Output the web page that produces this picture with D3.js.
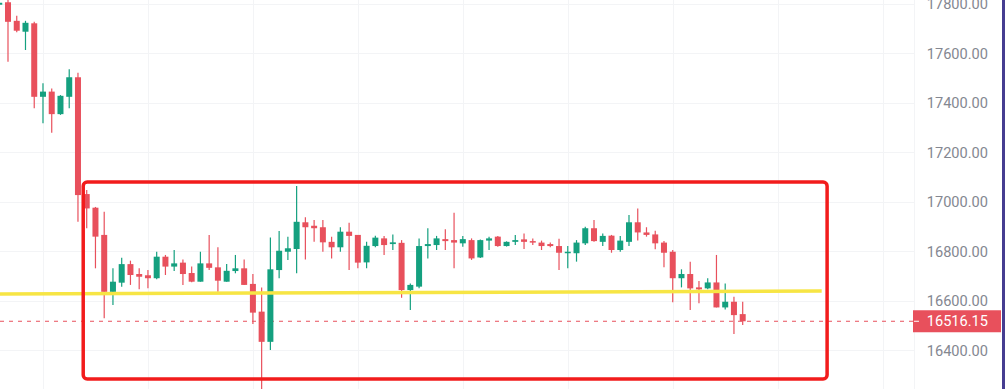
<!DOCTYPE html>
<html>
<head>
<meta charset="utf-8">
<script src="https://cdn.jsdelivr.net/npm/d3@7"></script>
<style>
  html, body { margin: 0; padding: 0; background: #fff; }
  svg { display: block; }
  .axis text { font-family: Roboto, "Noto Sans", sans-serif; }
</style>
</head>
<body>
<svg class="chart"></svg>
<script>
// candle values (index 0 is the half-hidden one at the left edge)
var open = [17795, 17805, 17730, 17686, 17720, 17423, 17444, 17353, 17423, 17502,
  17030, 16975, 16865, 16635, 16672, 16747, 16707, 16702, 16690, 16777,
  16737, 16753, 16711, 16676, 16750, 16734, 16676, 16719, 16730, 16667,
  16555, 16433, 16723, 16797, 16808, 16916, 16902, 16896, 16837, 16815,
  16878, 16865, 16754, 16820, 16851, 16828, 16833, 16642, 16656, 16820,
  16824, 16848, 16844, 16831, 16844, 16774, 16842, 16858, 16820, 16837,
  16847, 16840, 16834, 16828, 16820, 16791, 16791, 16831, 16892, 16837,
  16862, 16804, 16837, 16916, 16875, 16867, 16834, 16797, 16690, 16707,
  16653, 16649, 16673, 16572, 16595, 16545];
var high = [17806, 17815, 17751, 17730, 17726, 17478, 17457, 17430, 17534, 17520,
  17046, 16978, 16959, 16730, 16773, 16761, 16730, 16723, 16797, 16784,
  16804, 16766, 16737, 16797, 16865, 16815, 16747, 16784, 16766, 16707,
  16653, 16855, 16881, 16858, 17063, 16936, 16925, 16925, 16858, 16896,
  16914, 16865, 16837, 16862, 16861, 16867, 16844, 16669, 16851, 16892,
  16861, 16888, 16955, 16861, 16851, 16846, 16858, 16861, 16839, 16865,
  16871, 16851, 16842, 16834, 16850, 16820, 16844, 16898, 16925, 16871,
  16865, 16861, 16945, 16972, 16896, 16882, 16840, 16804, 16726, 16757,
  16679, 16690, 16784, 16669, 16615, 16595];
var low = [17790, 17565, 17684, 17612, 17377, 17316, 17278, 17350, 17377, 16918,
  16892, 16730, 16528, 16582, 16656, 16663, 16645, 16649, 16686, 16703,
  16719, 16663, 16674, 16676, 16723, 16635, 16676, 16710, 16663, 16505,
  16240, 16400, 16690, 16764, 16710, 16766, 16837, 16797, 16770, 16797,
  16723, 16730, 16730, 16815, 16784, 16804, 16611, 16562, 16649, 16770,
  16804, 16804, 16730, 16817, 16764, 16772, 16804, 16817, 16818, 16824,
  16808, 16824, 16804, 16815, 16723, 16730, 16757, 16824, 16837, 16820,
  16793, 16797, 16820, 16842, 16858, 16807, 16734, 16593, 16653, 16562,
  16589, 16645, 16572, 16564, 16465, 16501];
var close = [17803, 17726, 17690, 17722, 17423, 17444, 17353, 17427, 17502, 17026,
  16972, 16858, 16635, 16676, 16747, 16703, 16696, 16690, 16777, 16737,
  16750, 16707, 16676, 16750, 16732, 16680, 16720, 16730, 16663, 16551,
  16433, 16726, 16801, 16811, 16918, 16896, 16892, 16835, 16815, 16878,
  16861, 16753, 16821, 16854, 16824, 16835, 16642, 16663, 16820, 16828,
  16851, 16840, 16834, 16848, 16770, 16844, 16851, 16820, 16837, 16844,
  16837, 16834, 16820, 16820, 16793, 16797, 16834, 16892, 16840, 16861,
  16804, 16842, 16916, 16875, 16865, 16831, 16793, 16690, 16707, 16649,
  16645, 16673, 16572, 16595, 16541, 16516.15];

var priceTicks = [16400, 16600, 16800, 17000, 17200, 17400, 17600, 17800];
var timeGrid = [5, 17, 29, 41, 53, 65, 77, 89, 101];
var lastPrice = 16516.15;

// drawings on the chart, in bar index / price units
var rangeBox = {x0: 9.6, x1: 94.65, top: 17079, bottom: 16283};
var supportLine = {x0: -1, p0: 16626, x1: 94.03, p1: 16638.5};

var W = 1005, H = 389;
var paneW = 914;
var upColor = "#14a07f", downColor = "#e8505c";

var svg = d3.select(".chart")
    .attr("width", W)
    .attr("height", H);

var x = d3.scaleLinear().domain([0, 85]).range([-0.75, 742.7]);
var y = d3.scaleLinear().domain([16400, 17800]).range([350, 3.5]);

var data = open.map(function(o, i) {
  return {i: i, o: o, h: high[i], l: low[i], c: close[i]};
});

var pane = svg.append("g");
pane.append("clipPath").attr("id", "paneClip")
  .append("rect").attr("width", paneW).attr("height", H);
pane.attr("clip-path", "url(#paneClip)");

// grid
pane.selectAll(".hgrid")
  .data(priceTicks)
  .enter().append("line")
    .attr("x1", 0).attr("x2", paneW)
    .attr("y1", function(d) { return Math.round(y(d)) + 0.5; })
    .attr("y2", function(d) { return Math.round(y(d)) + 0.5; })
    .style("stroke", "#f3f4f6");
pane.selectAll(".vgrid")
  .data(timeGrid)
  .enter().append("line")
    .attr("y1", 0).attr("y2", H)
    .attr("x1", function(d) { return Math.round(x(d)) + 0.5; })
    .attr("x2", function(d) { return Math.round(x(d)) + 0.5; })
    .style("stroke", "#f3f4f6");

// last price line
pane.append("line")
  .attr("x1", 0).attr("x2", paneW)
  .attr("y1", y(lastPrice)).attr("y2", y(lastPrice))
  .style("stroke", downColor)
  .style("stroke-width", 1)
  .style("stroke-dasharray", "4,5");

// candles
var candle = pane.selectAll(".candle")
  .data(data)
  .enter().append("g")
    .style("fill", function(d) { return d.c >= d.o ? upColor : downColor; })
    .style("stroke", function(d) { return d.c >= d.o ? upColor : downColor; });

candle.append("line")
  .attr("x1", function(d) { return x(d.i); })
  .attr("x2", function(d) { return x(d.i); })
  .attr("y1", function(d) { return y(d.h); })
  .attr("y2", function(d) { return y(d.l); })
  .style("stroke-width", 1.2);

candle.append("rect")
  .attr("x", function(d) { return x(d.i) - 3; })
  .attr("width", 6)
  .attr("y", function(d) { return y(Math.max(d.o, d.c)); })
  .attr("height", function(d) { return Math.max(1.5, Math.abs(y(d.o) - y(d.c))); })
  .style("stroke", "none");

// yellow support line
pane.append("line")
  .attr("x1", x(supportLine.x0)).attr("y1", y(supportLine.p0))
  .attr("x2", x(supportLine.x1)).attr("y2", y(supportLine.p1))
  .style("stroke", "#f7e544")
  .style("stroke-width", 3.5);

// red range box
pane.append("rect")
  .attr("x", x(rangeBox.x0))
  .attr("y", y(rangeBox.top))
  .attr("width", x(rangeBox.x1) - x(rangeBox.x0))
  .attr("height", y(rangeBox.bottom) - y(rangeBox.top))
  .attr("rx", 4)
  .style("fill", "none")
  .style("stroke", "#f21c1c")
  .style("stroke-width", 3.5);

// price scale
svg.append("line")
  .attr("x1", paneW + 0.5).attr("x2", paneW + 0.5)
  .attr("y1", 0).attr("y2", H)
  .style("stroke", "#f3f4f6");

var yaxis = d3.axisRight(y)
  .tickValues(priceTicks)
  .tickFormat(d3.format(".2f"))
  .tickSize(0)
  .tickPadding(0);

var axisG = svg.append("g")
  .attr("class", "axis")
  .attr("transform", "translate(988,0)")
  .call(yaxis);
axisG.select(".domain").remove();
axisG.selectAll("text")
  .attr("text-anchor", "end")
  .attr("dy", "0.35em")
  .style("font-size", "14.6px")
  .style("fill", "#848791");

// last price label
var ly = y(lastPrice);
svg.append("rect")
  .attr("x", 913).attr("y", ly - 11)
  .attr("width", 88).attr("height", 22)
  .style("fill", downColor);
svg.append("line")
  .attr("x1", 914).attr("x2", 919)
  .attr("y1", ly).attr("y2", ly)
  .style("stroke", "#fff");
svg.append("text")
  .attr("class", "axis")
  .attr("x", 988).attr("y", ly)
  .attr("dy", "0.35em")
  .attr("text-anchor", "end")
  .style("font-family", "Roboto, sans-serif")
  .style("font-size", "14.6px")
  .style("fill", "#fff")
  .text(d3.format(".2f")(lastPrice));

// window edge on the right
svg.append("rect")
  .attr("x", 1002).attr("y", 0)
  .attr("width", 3).attr("height", H)
  .style("fill", "#463d91");
</script>
</body>
</html>
